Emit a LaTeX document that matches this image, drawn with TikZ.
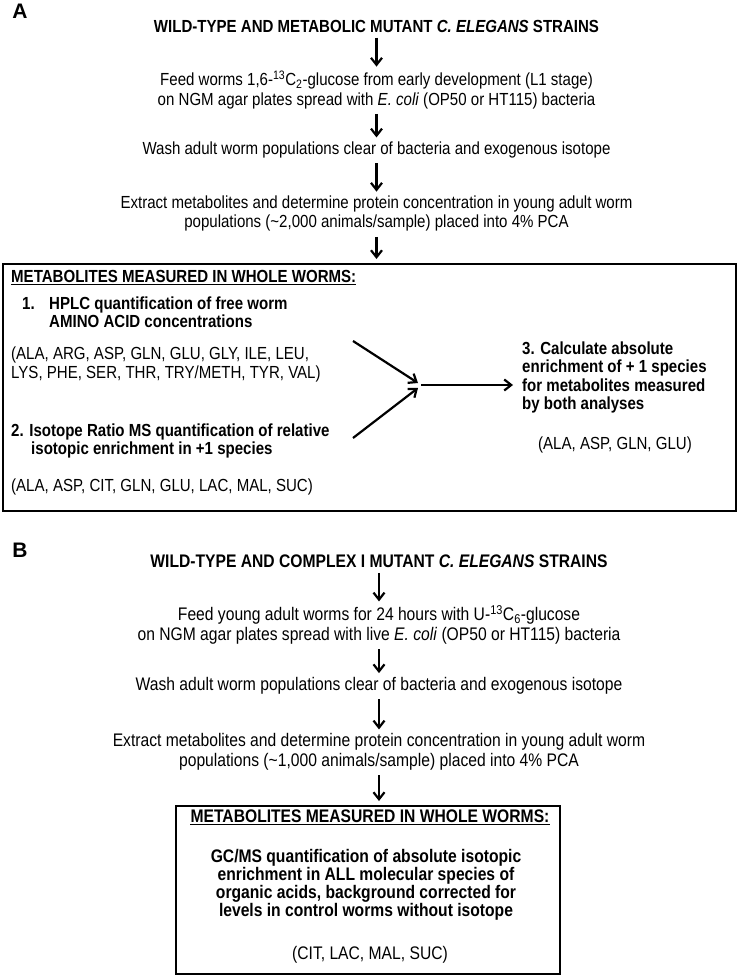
\documentclass[tikz,border=0pt]{standalone}
\usepackage{fontspec}
\setmainfont{Liberation Sans}[FakeStretch=0.86]
\newfontfamily\panelfont{Liberation Sans}
\usetikzlibrary{arrows.meta}
\usetikzlibrary{positioning}

\begin{document}
\begin{tikzpicture}[x=1pt, y=-1pt,
  flow/.style={-{Straight Barb[length=7pt,width=11pt]}, line width=2.2pt, shorten <=5pt, shorten >=4pt},
  merge/.style={-{Straight Barb[length=7pt,width=11pt]}, line width=2.2pt},
  stepA/.style={align=center, inner sep=0pt, font=\fontsize{17.5}{19.5}\selectfont},
  stepB/.style={align=center, inner sep=0pt, font=\fontsize{18.2}{19.5}\selectfont},
  boldA/.style={align=left, inner sep=0pt, font=\fontsize{17.5}{18.5}\selectfont\bfseries},
  boldB/.style={align=center, inner sep=0pt, font=\fontsize{18.2}{18}\selectfont\bfseries},
  frame/.style={draw, line width=2pt, inner sep=0pt, anchor=north west},
  panel/.style={inner sep=0pt, font=\panelfont\bfseries\fontsize{21}{21}\selectfont}
]
  \useasboundingbox (0,0) rectangle (738,976);
  \def\xa{376.5}
  \def\xb{379}

  % panel A: flow
  \node[panel] (labA) at (20,11) {A};
  \node[stepA, font=\fontsize{17.5}{19.5}\selectfont\bfseries, anchor=base] (titleA) at (\xa,32.3)
    {WILD-TYPE AND METABOLIC MUTANT \textit{C. ELEGANS} STRAINS};
  \node[stepA, anchor=north] (feedA) at (\xa,70.6)
    {Feed worms 1,6-\textsuperscript{13}C\textsubscript{2}-glucose from early development (L1 stage)\\
     on NGM agar plates spread with \textit{E. coli} (OP50 or HT115) bacteria};
  \node[stepA, anchor=base] (washA) at (\xa,154.3)
    {Wash adult worm populations clear of bacteria and exogenous isotope};
  \node[stepA, anchor=north] (extractA) at (\xa,195.6)
    {Extract metabolites and determine protein concentration in young adult worm\\
     populations (\textasciitilde 2,000 animals/sample) placed into 4\% PCA};
  \node[frame, minimum width=733pt, minimum height=247pt] (boxA) at (2,263) {};

  \draw[flow] (titleA) -- (feedA);
  \draw[flow] (feedA) -- (washA);
  \draw[flow] (washA) -- (extractA);
  \draw[flow] (extractA) -- (extractA |- boxA.north);

  % panel A: box contents
  \node[boldA, anchor=base west] (headA) at (11,282.3) {METABOLITES MEASURED IN WHOLE WORMS:};
  \draw[line width=1.2pt] ([yshift=-2pt]headA.south west) -- ([yshift=-2pt]headA.south east);
  \node[boldA, anchor=base west] (numA) at (22,309.3) {1.};
  \node[boldA, anchor=north west] (hplc) at (49,296.6)
    {HPLC quantification of free worm\\AMINO ACID concentrations};
  \node[stepA, align=left, anchor=north west] (aaList) at (11,346.6)
    {(ALA, ARG, ASP, GLN, GLU, GLY, ILE, LEU,\\LYS, PHE, SER, THR, TRY/METH, TYR, VAL)};
  \node[boldA, anchor=north west] (irms) at (11,423.6)
    {2. Isotope Ratio MS quantification of relative\\\hspace*{20pt}isotopic enrichment in +1 species};
  \node[stepA, anchor=base west] (citA) at (11,491.3)
    {(ALA, ASP, CIT, GLN, GLU, LAC, MAL, SUC)};
  \node[boldA, anchor=north west] (calc) at (522,341.6)
    {3. Calculate absolute\\enrichment of + 1 species\\for metabolites measured\\by both analyses};
  \node[stepA, anchor=base] (gluA) at (615,449.3) {(ALA, ASP, GLN, GLU)};

  \coordinate (upTail) at (353,341);
  \coordinate (lowTail) at (353,438);
  \coordinate (join) at (418,385);
  \draw[merge] (upTail) -- ([yshift=2pt]join);
  \draw[merge] (lowTail) -- ([yshift=-3pt]join);
  \draw[merge, shorten >=9pt] ([xshift=3pt]join) -- (join -| calc.west);

  % panel B: flow
  \node[panel] (labB) at (20,550) {B};
  \node[stepB, font=\fontsize{18.2}{19.5}\selectfont\bfseries, anchor=base] (titleB) at (\xb,567.5)
    {WILD-TYPE AND COMPLEX I MUTANT \textit{C. ELEGANS} STRAINS};
  \node[stepB, anchor=north] (feedB) at (\xb,605.4)
    {Feed young adult worms for 24 hours with U-\textsuperscript{13}C\textsubscript{6}-glucose\\
     on NGM agar plates spread with live \textit{E. coli} (OP50 or HT115) bacteria};
  \node[stepB, anchor=base] (washB) at (\xb,690.5)
    {Wash adult worm populations clear of bacteria and exogenous isotope};
  \node[stepB, anchor=north] (extractB) at (\xb,733.4)
    {Extract metabolites and determine protein concentration in young adult worm\\
     populations (\textasciitilde 1,000 animals/sample) placed into 4\% PCA};
  \node[frame, minimum width=384pt, minimum height=168pt] (boxB) at (175,805) {};

  \draw[flow] (titleB) -- (feedB);
  \draw[flow] (feedB) -- (washB);
  \draw[flow] (washB) -- (extractB);
  \draw[flow] (extractB) -- (extractB |- boxB.north);

  % panel B: box contents
  \node[boldB, anchor=base] (headB) at (370,822.5) {METABOLITES MEASURED IN WHOLE WORMS:};
  \draw[line width=1.2pt] ([yshift=-2pt]headB.south west) -- ([yshift=-2pt]headB.south east);
  \node[boldB, anchor=north] (gcms) at (366,849.4)
    {GC/MS quantification of absolute isotopic\\enrichment in ALL molecular species of\\
     organic acids, background corrected for\\levels in control worms without isotope};
  \node[stepB, anchor=base] (citB) at (370,959.5) {(CIT, LAC, MAL, SUC)};
\end{tikzpicture}
\end{document}
